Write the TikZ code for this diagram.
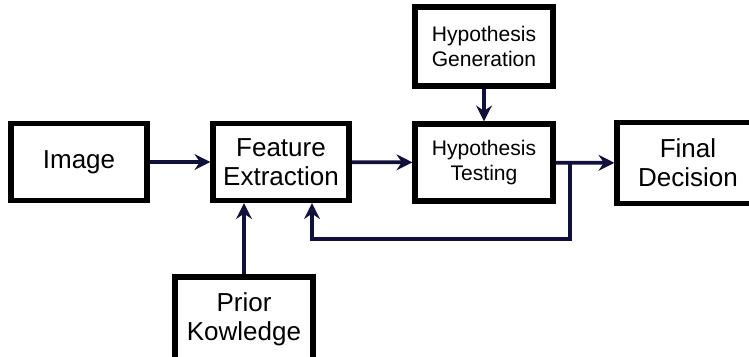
\documentclass[tikz,border=0pt]{standalone}
\usepackage{fontspec}
\setmainfont{Liberation Sans}
\usetikzlibrary{arrows.meta}
\definecolor{linknavy}{HTML}{10103A}
\begin{document}
\begin{tikzpicture}[
    block/.style={rectangle, draw, line width=3pt, align=center, inner sep=0pt,
        minimum width=2.72cm, minimum height=1.54cm, font=\fontsize{14.8}{16.5}\selectfont},
    smallblock/.style={block, font=\fontsize{12}{14}\selectfont},
    link/.style={draw=linknavy, line width=2.1pt, -{Stealth[length=9pt, width=9pt, inset=3pt]}}
]
    \useasboundingbox (0,0) rectangle (14.98,7.12);

    \node[block] (img) at (1.58,3.88) {Image};
    \node[block] (fe) at (5.62,3.88) {Feature\\Extraction};
    \node[smallblock, minimum width=2.76cm] (ht) at (9.68,3.87) {Hypothesis\\Testing};
    \node[smallblock, minimum width=2.76cm, minimum height=1.58cm] (hg) at (9.68,6.19) {Hypothesis\\Generation};
    \node[block, minimum width=2.84cm, minimum height=1.62cm] (fd) at (13.76,3.86) {Final\\Decision};
    \node[block, minimum width=2.76cm, minimum height=1.7cm] (pk) at (4.88,0.73) {Prior\\Kowledge};

    \coordinate (split) at (11.4,3.88);
    \coordinate (turn) at (11.4,2.34);

    \draw[link] (img) -- (fe);
    \draw[link] (fe) -- (ht);
    \draw[link] (ht) -- (fd);
    \draw[link] (hg) -- (ht);
    \draw[link] (pk.north) -- (pk.north |- fe.south);
    \draw[link] (split) -- (turn) -| ([xshift=0.62cm]fe.south);
\end{tikzpicture}
\end{document}
